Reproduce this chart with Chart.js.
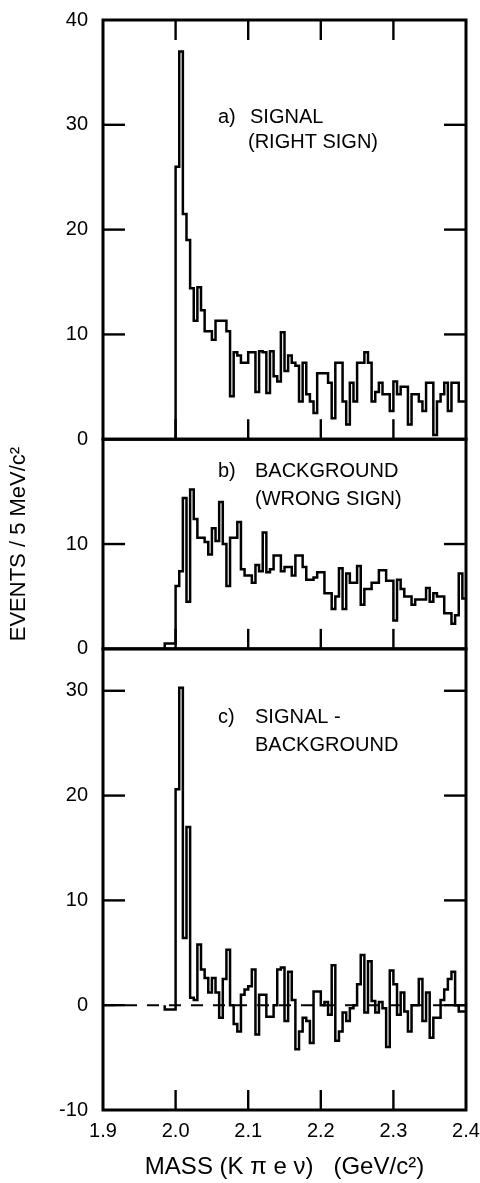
<!DOCTYPE html>
<html>
<head>
<meta charset="utf-8">
<title>Mass spectrum</title>
<script src="https://cdn.jsdelivr.net/npm/chart.js@4.4.1/dist/chart.umd.min.js"></script>
<style>
  body { margin: 0; background: #fff; }
  #wrap { width: 480px; height: 1183px; }
</style>
</head>
<body>
<div id="wrap"><canvas id="massChart" width="480" height="1183"></canvas></div>
<script>
// x axis (GeV/c^2) and y tick values of each panel
const massTicks = [1.9, 2.0, 2.1, 2.2, 2.3, 2.4];
const signalTicks = [0, 10, 20, 30, 40];
const backgroundTicks = [0, 10];
const diffTicks = [-10, 0, 10, 20, 30];

// 5 MeV bins
const binWidth = 0.005;

// a) signal, right sign
const signalStart = 2.000;
const signalCounts = [
  26, 37, 21.5, 19, 14.4, 11.3, 14.5, 12.3, 10.3, 10.3,
  9.5, 11.3, 11.3, 11.3, 10.3, 4.1, 8.3, 8, 7.3, 7.3,
  8.3, 8.3, 4.5, 8.4, 8.3, 4.4, 8.4, 6, 5.5, 10.2,
  6.5, 8, 7.3, 7, 3.6, 7.3, 4.3, 3.6, 2.5, 6.3,
  6.3, 6.3, 5.4, 2, 7.3, 7.3, 3.6, 1.4, 5.4, 3.6,
  7.3, 7.3, 8.3, 7.3, 3.6, 4.5, 5.4, 4.3, 4.3, 2.7,
  5.5, 4.3, 5, 5, 1.4, 4.3, 4.3, 3.6, 2.7, 5.4,
  5.4, 0.4, 3.6, 4.3, 5.4, 2.7, 5.4, 5.4, 3.6, 3.6
];

// b) background, wrong sign
const backgroundStart = 1.985;
const backgroundCounts = [
  0.5, 0.5, 0.5,
  6, 7.4, 14.4, 4.5, 15.2, 12.4, 10.6, 10.6, 10.2, 9,
  11.5, 10.3, 14, 10, 6, 10.6, 10.6, 12.1, 7.6, 7,
  7, 6.3, 8, 7.4, 11.1, 7.3, 7.6, 8.9, 8.9, 7.4,
  7.8, 7.8, 7, 8.9, 8.9, 7.8, 6.6, 6.6,
  6.8, 7.3, 7.3, 5.3, 5.3, 3.8, 5, 7.7, 3.8, 7.2, 6.3, 6.3,
  7.9, 4.2, 5.7, 5.7, 6.3, 6.3, 7.5, 7.5, 6.5, 6.5,
  2.7, 6.6, 5.7, 5, 5, 4.2, 4.7, 4.7, 4.7, 5.8,
  4.5, 5.3, 5, 5, 3.4, 3.4, 2.4, 3.2, 7.2, 4.8
];

// c) signal - background
const diffStart = 1.985;
const diffCounts = [
  -0.4, -0.4, -0.4,
  20.6, 30.3, 6.4, 17, 0.7, 0.5, 5.8, 3.4, 2.6, 1.2,
  2.6, 1.2, -1.2, 2.5, 5.3, 0, -1.8, -2.5, 1, 1.5,
  1.8, 3.4, -2.8, 1, 1, -1.1, -1.1, 0, 3.4, 3.6,
  -1.5, 3.2, 0.5, -4.2, -2.5, -1.2, -1.5, -3.6, 1.3, 1.3,
  0, 0.3, -0.9, 3.8, -3.4, -2.5, -0.7, -1.5, -0.3, 0,
  2, 4.8, -0.7, 4.2, 0.4, -0.7, 0.3, -0.3, -4, 3.3,
  2, -0.9, 1.2, -0.6, -2.5, 0, 0, 2.5, -1.5, 1.2,
  -3.1, -1.2, -1.2, 0.5, 1.5, 2.5, 3.2, 0, -0.6, -0.6
];

const panelTags = ['a)', 'b)', 'c)'];
const panelText = [
  ['SIGNAL', '(RIGHT SIGN)'],
  ['BACKGROUND', '(WRONG SIGN)'],
  ['SIGNAL -', 'BACKGROUND']
];
const xTitle = 'MASS (K \u03c0 e \u03bd)   (GeV/c\u00b2)';
const yTitle = 'EVENTS / 5 MeV/c\u00b2';

const FONT = "'Liberation Sans', Arial, Helvetica, sans-serif";

// build step points from left bin edges
function histPoints(start, counts) {
  const pts = [{ x: start, y: 0 }];
  counts.forEach((c, i) => pts.push({ x: start + i * binWidth, y: c }));
  pts.push({ x: start + counts.length * binWidth, y: counts[counts.length - 1] });
  return pts;
}

function histSet(start, counts, axis) {
  return {
    data: histPoints(start, counts),
    yAxisID: axis,
    stepped: 'before',
    borderColor: '#000',
    borderWidth: 2.5,
    pointRadius: 0,
    fill: false
  };
}

function yScale(min, max, weight, tickValues, extra) {
  return Object.assign({
    type: 'linear',
    position: 'left',
    stack: 'panels',
    stackWeight: weight,
    min: min,
    max: max,
    grid: { display: false, drawTicks: false },
    border: { display: false },
    ticks: { color: '#000', font: { family: FONT, size: 20 }, padding: 15 },
    afterBuildTicks: s => { s.ticks = tickValues.map(v => ({ value: v })); },
    afterFit: s => { s.width = 103; s.paddingTop = 0; s.paddingBottom = 0; }
  }, extra || {});
}

// frames, inward ticks and panel notes
const framePlugin = {
  id: 'frames',
  afterDatasetsDraw(chart) {
    const { ctx, chartArea, scales } = chart;
    const xs = scales.x;
    const left = chartArea.left, right = chartArea.right;
    const line = (x1, y1, x2, y2) => {
      ctx.beginPath(); ctx.moveTo(x1, y1); ctx.lineTo(x2, y2); ctx.stroke();
    };
    const notePos = [
      { tag: 218, x: [250, 248], y: [123, 148] },
      { tag: 218, x: [255, 255], y: [477, 505] },
      { tag: 218, x: [255, 255], y: [723, 751] }
    ];
    ctx.save();
    ctx.strokeStyle = '#000';
    ctx.fillStyle = '#000';
    ['ya', 'yb', 'yc'].forEach((id, p) => {
      const s = scales[id];
      ctx.lineWidth = 3;
      ctx.strokeRect(left, s.top, right - left, s.bottom - s.top);
      ctx.lineWidth = 2.4;
      s.ticks.forEach(t => {
        if (t.value <= s.min || t.value >= s.max) return;
        const y = s.getPixelForValue(t.value);
        line(left, y, left + 22, y);
        line(right - 22, y, right, y);
      });
      massTicks.forEach(v => {
        if (v <= xs.min || v >= xs.max) return;
        const px = xs.getPixelForValue(v);
        line(px, s.bottom, px, s.bottom - 20);
        if (p === 0) line(px, s.top, px, s.top + 20);
      });
      const n = notePos[p];
      ctx.font = '20px ' + FONT;
      ctx.textBaseline = 'alphabetic';
      ctx.fillText(panelTags[p], n.tag, n.y[0]);
      ctx.fillText(panelText[p][0], n.x[0], n.y[0]);
      ctx.fillText(panelText[p][1], n.x[1], n.y[1]);
    });
    ctx.restore();
  }
};

new Chart(document.getElementById('massChart'), {
  type: 'line',
  data: {
    datasets: [
      histSet(signalStart, signalCounts, 'ya'),
      histSet(backgroundStart, backgroundCounts, 'yb'),
      {
        data: [{ x: massTicks[0], y: 0 }, { x: massTicks[massTicks.length - 1], y: 0 }],
        yAxisID: 'yc',
        borderColor: '#000',
        borderWidth: 2,
        borderDash: [12, 10],
        pointRadius: 0
      },
      histSet(diffStart, diffCounts, 'yc')
    ]
  },
  options: {
    responsive: false,
    devicePixelRatio: 1,
    animation: false,
    layout: { padding: { top: 20, right: 14, bottom: 0, left: 0 } },
    plugins: { legend: { display: false }, tooltip: { enabled: false } },
    scales: {
      x: {
        type: 'linear',
        position: 'bottom',
        min: 1.9,
        max: 2.4,
        grid: { display: false, drawTicks: false },
        border: { display: false },
        ticks: {
          color: '#000', font: { family: FONT, size: 20 }, padding: 9,
          maxRotation: 0, autoSkip: false,
          callback: v => Number(v).toFixed(1)
        },
        afterBuildTicks: s => { s.ticks = massTicks.map(v => ({ value: v })); },
        afterFit: s => { s.height = 73; s.paddingLeft = 0; s.paddingRight = 0; },
        title: {
          display: true, text: xTitle, color: '#000',
          font: { family: FONT, size: 24 }, padding: { top: 0, bottom: 1 }
        }
      },
      yc: yScale(-10, 34, 44, diffTicks),
      yb: yScale(0, 20, 20, backgroundTicks, {
        title: {
          display: true, text: yTitle, color: '#000',
          font: { family: FONT, size: 22 }, padding: { top: 6, bottom: 0 }
        }
      }),
      ya: yScale(0, 40, 40, signalTicks)
    }
  },
  plugins: [framePlugin]
});
</script>
</body>
</html>
